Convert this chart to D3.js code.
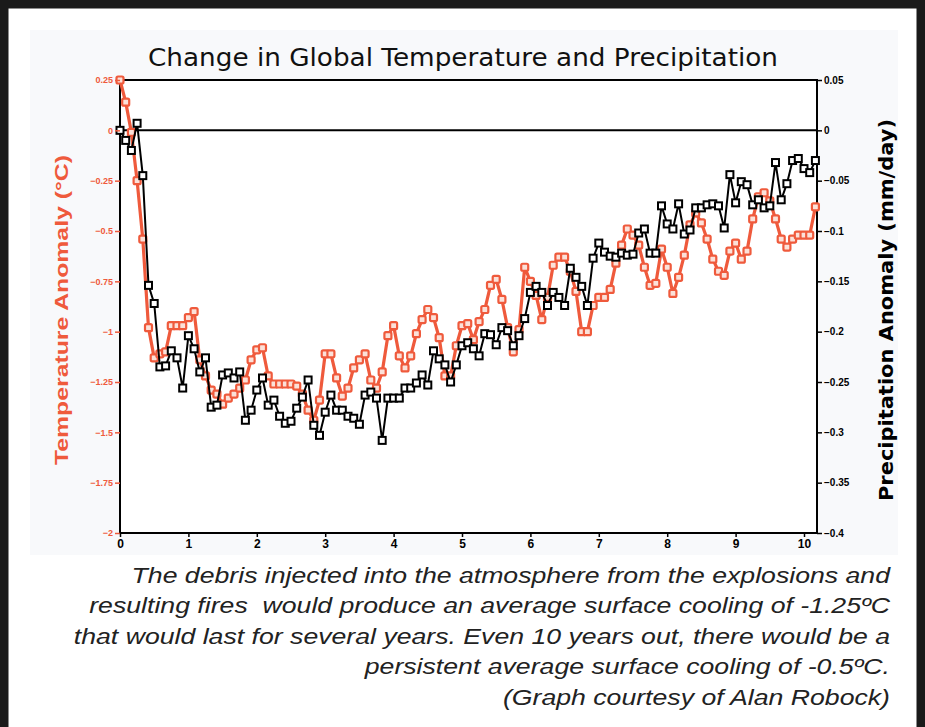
<!DOCTYPE html>
<html>
<head>
<meta charset="utf-8">
<script src="https://cdn.jsdelivr.net/npm/d3@7"></script>
<style>
  body { margin: 0; background: #fff; }
  svg { display: block; }
</style>
</head>
<body>
<div id="chart"></div>
<script>
"use strict"

const WIDTH = 925;
const HEIGHT = 727;
const RED = "#ef5a3c";

// monthly values, month 0 .. 122 (years = index / 12)
var tempAnomaly = [
	0.25, 0.14, -0.01, -0.25, -0.54, -0.98, -1.13, -1.11, -1.10, -0.97,
	-0.97, -0.97, -0.93, -0.90, -1.14, -1.22, -1.29, -1.31, -1.36, -1.33,
	-1.31, -1.28, -1.24, -1.14, -1.09, -1.08, -1.22, -1.26, -1.26, -1.26,
	-1.26, -1.27, -1.31, -1.39, -1.44, -1.34, -1.11, -1.11, -1.23, -1.32,
	-1.28, -1.18, -1.14, -1.11, -1.24, -1.28, -1.20, -1.02, -0.97, -1.12,
	-1.18, -1.12, -1.01, -0.94, -0.89, -0.93, -1.03, -1.22, -1.22, -1.07,
	-0.97, -0.96, -1.04, -0.95, -0.89, -0.77, -0.74, -0.84, -0.98, -1.10,
	-0.99, -0.68, -0.75, -0.82, -0.94, -0.83, -0.67, -0.63, -0.63, -0.70,
	-0.80, -1.00, -1.00, -0.87, -0.83, -0.83, -0.79, -0.66, -0.57, -0.49,
	-0.52, -0.57, -0.68, -0.77, -0.76, -0.59, -0.68, -0.81, -0.73, -0.62,
	-0.47, -0.41, -0.46, -0.54, -0.64, -0.70, -0.72, -0.60, -0.56, -0.64,
	-0.60, -0.44, -0.33, -0.31, -0.35, -0.44, -0.54, -0.58, -0.54, -0.52,
	-0.52, -0.52, -0.38
];

var precipAnomaly = [
	0.000, -0.010, -0.020, 0.007, -0.045, -0.154, -0.172, -0.235, -0.234, -0.219,
	-0.226, -0.256, -0.204, -0.217, -0.240, -0.226, -0.275, -0.273, -0.243, -0.241,
	-0.246, -0.240, -0.288, -0.278, -0.258, -0.246, -0.273, -0.268, -0.284, -0.291,
	-0.289, -0.276, -0.265, -0.248, -0.293, -0.303, -0.280, -0.263, -0.278, -0.278,
	-0.284, -0.286, -0.292, -0.263, -0.260, -0.266, -0.308, -0.266, -0.266, -0.266,
	-0.256, -0.256, -0.251, -0.243, -0.253, -0.219, -0.227, -0.233, -0.250, -0.233,
	-0.214, -0.211, -0.217, -0.224, -0.202, -0.203, -0.213, -0.196, -0.199, -0.214,
	-0.204, -0.187, -0.161, -0.155, -0.161, -0.174, -0.161, -0.166, -0.174, -0.137,
	-0.146, -0.155, -0.174, -0.127, -0.112, -0.121, -0.125, -0.126, -0.122, -0.124,
	-0.123, -0.102, -0.098, -0.122, -0.122, -0.075, -0.093, -0.098, -0.073, -0.103,
	-0.099, -0.077, -0.077, -0.074, -0.073, -0.075, -0.097, -0.044, -0.072, -0.051,
	-0.054, -0.074, -0.069, -0.077, -0.075, -0.032, -0.069, -0.053, -0.030, -0.028,
	-0.038, -0.042, -0.030
];

var yearTicks = [0, 1, 2, 3, 4, 5, 6, 7, 8, 9, 10];
var tempTicks = [0.25, 0, -0.25, -0.5, -0.75, -1, -1.25, -1.5, -1.75, -2];
var precipTicks = [0.05, 0, -0.05, -0.1, -0.15, -0.2, -0.25, -0.3, -0.35, -0.4];

var captionLines = [
	"The debris injected into the atmosphere from the explosions and",
	"resulting fires  would produce an average surface cooling of -1.25ºC",
	"that would last for several years. Even 10 years out, there would be a",
	"persistent average surface cooling of -0.5ºC.",
	"(Graph courtesy of Alan Robock)"
];

const LEFT = 120, RIGHT = 817, TOP = 80, BOTTOM = 533;

var svg = d3.select("#chart")
	.append("svg")
	.attr("width", WIDTH)
	.attr("height", HEIGHT);

// frame and faint plot backdrop
svg.append("rect")
	.attr("x", 30).attr("y", 30)
	.attr("width", 868).attr("height", 525)
	.style("fill", "#f8f9fb");
svg.append("path")
	.attr("d", "M4,727 V4 H921 V727")
	.style("fill", "none")
	.style("stroke", "#1a1a1a")
	.style("stroke-width", 9);

var x = d3.scaleLinear().domain([0, 10.19]).range([LEFT, RIGHT]);
var yT = d3.scaleLinear().domain([-2, 0.25]).range([BOTTOM, TOP]);
var yP = d3.scaleLinear().domain([-0.4, 0.05]).range([BOTTOM, TOP]);

var plot = svg.append("g");

plot.append("rect")
	.attr("x", LEFT).attr("y", TOP)
	.attr("width", RIGHT - LEFT).attr("height", BOTTOM - TOP)
	.style("fill", "#fff");

// zero line
plot.append("line")
	.attr("x1", LEFT).attr("x2", RIGHT)
	.attr("y1", yT(0)).attr("y2", yT(0))
	.style("stroke", "#000")
	.style("stroke-width", 2);

var fmt = d3.format("");

// left axis (temperature)
var leftAxis = svg.append("g")
	.attr("transform", "translate(" + LEFT + ",0)")
	.call(d3.axisLeft(yT).tickValues(tempTicks).tickSize(5).tickPadding(2).tickFormat(fmt));
leftAxis.select(".domain").remove();
leftAxis.selectAll("line").style("stroke", RED).style("stroke-width", 1.5);
leftAxis.selectAll("text")
	.style("fill", RED)
	.style("font-family", "'Liberation Sans Narrow', 'Liberation Sans', sans-serif")
	.style("font-weight", "bold")
	.style("font-size", "9px");

// right axis (precipitation)
var rightAxis = svg.append("g")
	.attr("transform", "translate(" + RIGHT + ",0)")
	.call(d3.axisRight(yP).tickValues(precipTicks).tickSize(5).tickPadding(2).tickFormat(fmt));
rightAxis.select(".domain").remove();
rightAxis.selectAll("line").style("stroke", "#000").style("stroke-width", 1.5);
rightAxis.selectAll("text")
	.style("fill", "#000")
	.style("font-family", "'Liberation Sans', sans-serif")
	.style("font-weight", "bold")
	.style("font-size", "10px");

// bottom axis
var bottomAxis = svg.append("g")
	.attr("transform", "translate(0," + BOTTOM + ")")
	.call(d3.axisBottom(x).tickValues(yearTicks).tickSize(4).tickPadding(2).tickFormat(fmt));
bottomAxis.select(".domain").remove();
bottomAxis.selectAll("line").style("stroke", "#000").style("stroke-width", 1.5);
bottomAxis.selectAll("text")
	.style("fill", "#000")
	.style("font-family", "'Liberation Sans Narrow', 'Liberation Sans', sans-serif")
	.style("font-weight", "bold")
	.style("font-size", "12px");

// plot box
plot.append("rect")
	.attr("x", LEFT).attr("y", TOP)
	.attr("width", RIGHT - LEFT).attr("height", BOTTOM - TOP)
	.style("fill", "none")
	.style("stroke", "#000")
	.style("stroke-width", 2);

// temperature series
var tempLine = d3.line()
	.x(function(d, i) { return x(i / 12); })
	.y(function(d) { return yT(d); });

plot.append("path")
	.datum(tempAnomaly)
	.attr("d", tempLine)
	.style("fill", "none")
	.style("stroke", RED)
	.style("stroke-width", 3.2)
	.style("stroke-linejoin", "round");

plot.selectAll(".tempDot")
	.data(tempAnomaly)
	.enter()
		.append("rect")
		.attr("class", "tempDot")
		.attr("x", function(d, i) { return x(i / 12) - 3.5; })
		.attr("y", function(d) { return yT(d) - 3.5; })
		.attr("width", 7)
		.attr("height", 7)
		.attr("rx", 1.5)
		.style("fill", "#fbe1d9")
		.style("stroke", RED)
		.style("stroke-width", 2.2);

// precipitation series
var precipLine = d3.line()
	.x(function(d, i) { return x(i / 12); })
	.y(function(d) { return yP(d); });

plot.append("path")
	.datum(precipAnomaly)
	.attr("d", precipLine)
	.style("fill", "none")
	.style("stroke", "#000")
	.style("stroke-width", 2);

plot.selectAll(".precipDot")
	.data(precipAnomaly)
	.enter()
		.append("rect")
		.attr("class", "precipDot")
		.attr("x", function(d, i) { return x(i / 12) - 3.5; })
		.attr("y", function(d) { return yP(d) - 3.5; })
		.attr("width", 7)
		.attr("height", 7)
		.style("fill", "#fff")
		.style("stroke", "#000")
		.style("stroke-width", 2);

// title
svg.append("text")
	.attr("x", 463)
	.attr("y", 66)
	.attr("text-anchor", "middle")
	.attr("textLength", 630)
	.attr("lengthAdjust", "spacingAndGlyphs")
	.style("font-family", "'DejaVu Sans', sans-serif")
	.style("font-size", "25px")
	.style("fill", "#111")
	.text("Change in Global Temperature and Precipitation");

// axis titles
svg.append("text")
	.attr("transform", "translate(68,310) rotate(-90)")
	.attr("text-anchor", "middle")
	.attr("textLength", 310)
	.attr("lengthAdjust", "spacingAndGlyphs")
	.style("font-family", "'Liberation Sans', sans-serif")
	.style("font-weight", "bold")
	.style("font-size", "18px")
	.style("fill", RED)
	.text("Temperature Anomaly (°C)");

svg.append("text")
	.attr("transform", "translate(893,310) rotate(-90)")
	.attr("text-anchor", "middle")
	.attr("textLength", 382)
	.attr("lengthAdjust", "spacingAndGlyphs")
	.style("font-family", "'DejaVu Sans', sans-serif")
	.style("font-weight", "bold")
	.style("font-size", "19px")
	.style("fill", "#000")
	.text("Precipitation Anomaly (mm/day)");

// caption, stretched horizontally to the width of the original type
var caption = svg.append("g")
	.attr("transform", "translate(890,0) scale(1.185,1)");

caption.selectAll(".caption")
	.data(captionLines)
	.enter()
		.append("text")
		.attr("class", "caption")
		.attr("x", 0)
		.attr("y", function(d, i) { return 583 + i * 30.5; })
		.attr("text-anchor", "end")
		.style("font-family", "'Liberation Sans', Arial, sans-serif")
		.style("font-style", "italic")
		.style("font-size", "22.5px")
		.style("fill", "#222")
		.style("white-space", "pre")
		.text(function(d) { return d; });
</script>
</body>
</html>
